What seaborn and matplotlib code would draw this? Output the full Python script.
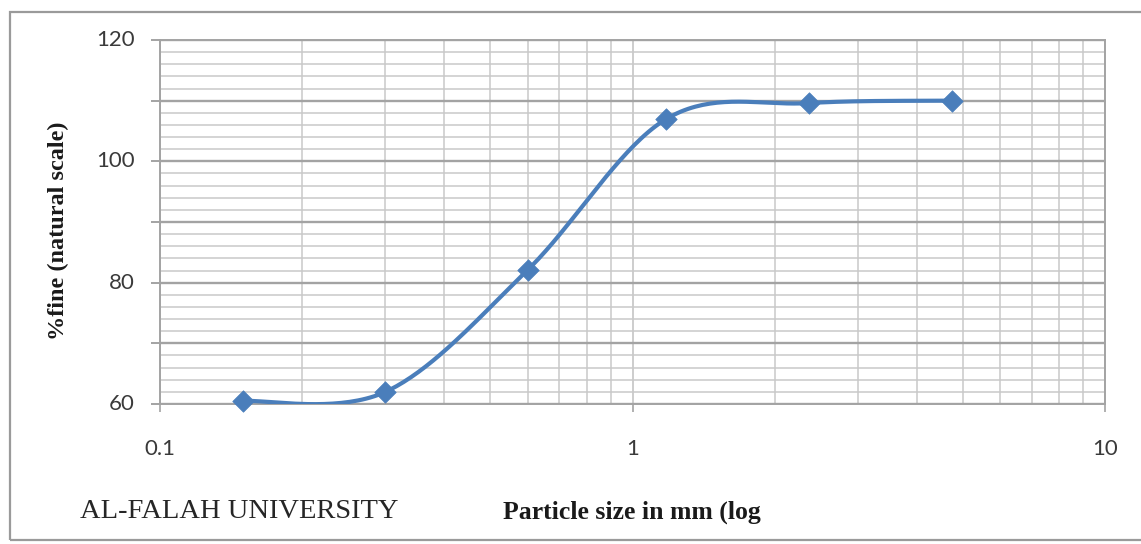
import numpy as np
import pandas as pd
import matplotlib
matplotlib.use("Agg")
import matplotlib.pyplot as plt
import seaborn as sns
from matplotlib.ticker import FixedLocator, NullFormatter, FixedFormatter
from matplotlib.patches import Rectangle

# ---- data ----
particle_size_mm = [0.15, 0.3, 0.6, 1.18, 2.36, 4.75]
percent_fine = [60.5, 62.0, 82.1, 107.0, 109.6, 110.0]
x_tick_values = [0.1, 1, 10]
x_tick_labels = ["0.1", "1", "10"]
y_label_values = [60, 80, 100, 120]
y_label_texts = ["60", "80", "100", "120"]

BLUE = "#4A7EBB"
GRID_MINOR = "#c9c9c9"
GRID_MAJOR = "#a3a3a3"

sns.set_theme(style="white")
plt.rcParams["font.family"] = ["DejaVu Sans"]

W, H = 1141, 544
fig = plt.figure(figsize=(W / 100, H / 100), dpi=100)
ax = fig.add_axes([160 / W, 1 - 404 / H, (1105 - 160) / W, (404 - 40) / H])
ax.set_xscale("log")
ax.set_xlim(0.1, 10)
ax.set_ylim(60, 120)

# grid
ax.xaxis.set_major_locator(FixedLocator(x_tick_values))
ax.xaxis.set_minor_locator(FixedLocator([m * d for d in (0.1, 1) for m in range(2, 10)]))
ax.yaxis.set_major_locator(FixedLocator(list(range(60, 121, 10))))
ax.yaxis.set_minor_locator(FixedLocator([v for v in range(60, 121, 2) if v % 10]))
ax.grid(which="minor", color=GRID_MINOR, lw=1.1)
ax.grid(which="major", axis="y", color=GRID_MAJOR, lw=1.7)
ax.grid(which="major", axis="x", color=GRID_MINOR, lw=1.3)
ax.set_axisbelow(True)

ax.xaxis.set_major_formatter(FixedFormatter(x_tick_labels))
ax.xaxis.set_minor_formatter(NullFormatter())
ax.yaxis.set_major_formatter(NullFormatter())
ax.yaxis.set_minor_formatter(NullFormatter())

for s in ax.spines.values():
    s.set_color(GRID_MAJOR)
    s.set_linewidth(1.4)
ax.tick_params(axis="x", which="major", length=6, width=1.2, color=GRID_MAJOR,
               direction="out", bottom=True, pad=19, labelsize=16, labelcolor="#3a3a3a")
ax.tick_params(axis="x", which="minor", length=0)
ax.tick_params(axis="y", which="major", length=6.5, width=1.4, color=GRID_MAJOR,
               direction="out", left=True)
ax.tick_params(axis="y", which="minor", length=0)
for lab in ax.get_xticklabels():
    lab.set_family(["Lato", "DejaVu Sans"])

# y labels (only every 20)
for v, t in zip(y_label_values, y_label_texts):
    ax.text(-0.027, v, t, transform=ax.get_yaxis_transform(), ha="right", va="center",
            fontsize=16, color="#3a3a3a", family=["Lato", "DejaVu Sans"])

# ---- smoothed line (Excel-style Bezier through the points, in display space) ----
fig.canvas.draw()
pts = ax.transData.transform(np.column_stack([particle_size_mm, percent_fine]))
n = len(pts)
curve = []
tt = np.linspace(0, 1, 40)
for i in range(n - 1):
    p0 = pts[max(i - 1, 0)]
    p1 = pts[i]
    p2 = pts[i + 1]
    p3 = pts[min(i + 2, n - 1)]
    c1 = p1 + (p2 - p0) / 6.0
    c2 = p2 - (p3 - p1) / 6.0
    seg = ((1 - tt) ** 3)[:, None] * p1 + (3 * (1 - tt) ** 2 * tt)[:, None] * c1 \
        + (3 * (1 - tt) * tt ** 2)[:, None] * c2 + (tt ** 3)[:, None] * p2
    curve.append(seg if i == 0 else seg[1:])
curve = np.vstack(curve)
curve_data = ax.transData.inverted().transform(curve)
smooth_df = pd.DataFrame({"size": curve_data[:, 0], "fine": curve_data[:, 1]})
sns.lineplot(data=smooth_df, x="size", y="fine", sort=False, estimator=None,
             color=BLUE, lw=3.0, ax=ax, zorder=3)

pts_df = pd.DataFrame({"size": particle_size_mm, "fine": percent_fine})
sns.scatterplot(data=pts_df, x="size", y="fine", marker="D", s=120, color=BLUE,
                edgecolor=BLUE, linewidth=0.5, ax=ax, zorder=4, clip_on=False)
ax.set_xlabel("")
ax.set_ylabel("")
ax.set_xlim(0.1, 10)
ax.set_ylim(60, 120)

# ---- texts ----
fig.text(58 / W, 1 - 231 / H, "%fine (natural scale)", rotation=90, ha="center", va="center",
         fontsize=17.5, fontweight="bold", family=["Liberation Serif", "DejaVu Serif"], color="#1a1a1a")
fig.text(80 / W, 1 - 512 / H, "AL-FALAH UNIVERSITY", ha="left", va="center",
         fontsize=20.5, family=["Liberation Serif", "DejaVu Serif"], color="#262626")
fig.text(503 / W, 1 - 512 / H, "Particle size in mm (log", ha="left", va="center",
         fontsize=18.5, fontweight="bold", family=["Liberation Serif", "DejaVu Serif"], color="#1a1a1a")

# outer frame
fig.patches.append(Rectangle((10 / W, 4 / H), 1.2, (540 - 12) / H, transform=fig.transFigure,
                             fill=False, edgecolor="#9a9a9a", lw=1.6))

fig.savefig("out.png", dpi=100)
